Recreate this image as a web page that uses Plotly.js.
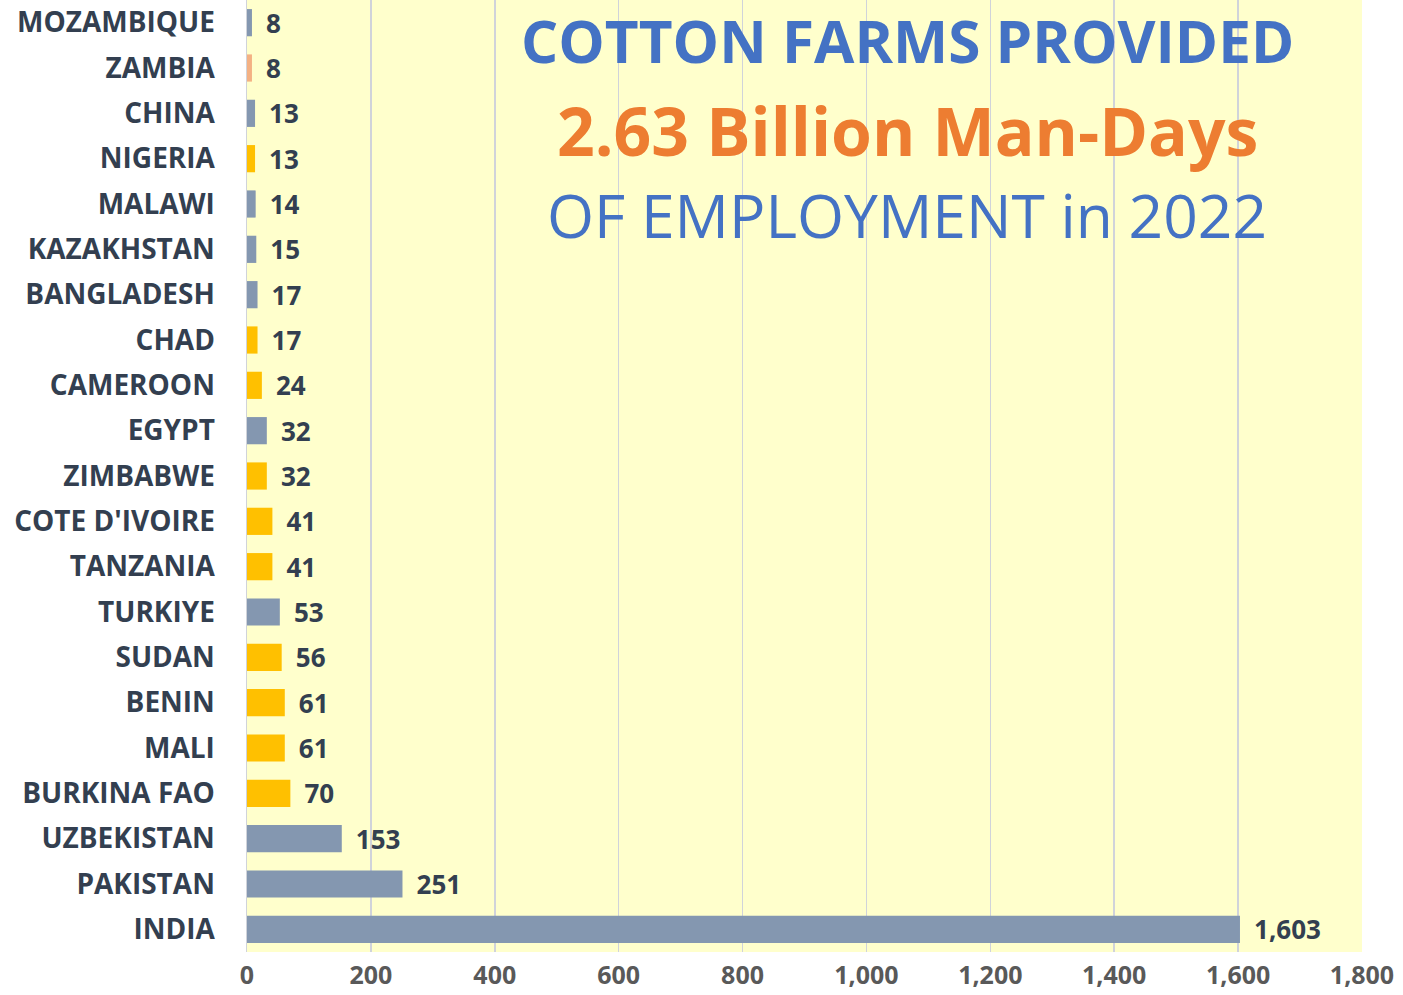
<!DOCTYPE html>
<html><head><meta charset="utf-8">
<script src="https://cdn.plot.ly/plotly-3.0.1.min.js"></script>
<style>body{margin:0;padding:0;background:#fff}#chart{width:1403px;height:995px}</style>
</head><body><div id="chart"></div>
<script>
const countries = ["MOZAMBIQUE","ZAMBIA","CHINA","NIGERIA","MALAWI","KAZAKHSTAN","BANGLADESH","CHAD","CAMEROON","EGYPT","ZIMBABWE","COTE D'IVOIRE","TANZANIA","TURKIYE","SUDAN","BENIN","MALI","BURKINA FAO","UZBEKISTAN","PAKISTAN","INDIA"];
const manDays = [8,8,13,13,14,15,17,17,24,32,32,41,41,53,56,61,61,70,153,251,1603];
const groups = ["grey","salmon","grey","gold","grey","grey","grey","gold","gold","grey","gold","gold","gold","grey","gold","gold","gold","gold","grey","grey","grey"];
const palette = {grey:"#8497B0", gold:"#FFC000", salmon:"#F4B183"};
const xTicks = [0,200,400,600,800,1000,1200,1400,1600,1800];

const cats = countries.slice().reverse();
const vals = manDays.slice().reverse();
const cols = groups.slice().reverse().map(g => palette[g]);

const trace = {
  type: "bar", orientation: "h",
  x: vals, y: cats,
  marker: {color: cols},
  text: vals, texttemplate: "\u00a0\u2009%{x:,}", textposition: "outside",
  constraintext: "none",
  textfont: {family: "Open Sans", size: 26, color: "#333F50", weight: 700},
  cliponaxis: false, hoverinfo: "skip"
};

const font = "Open Sans";
const layout = {
  width: 1403, height: 995,
  margin: {l: 247, r: 41, t: 0, b: 43},
  paper_bgcolor: "#FFFFFF", plot_bgcolor: "#FFFFCC",
  bargap: 0.4, showlegend: false,
  xaxis: {range: [0, 1800], tickvals: xTicks, tickformat: ",", showgrid: true, gridcolor: "#D0D3DA", gridwidth: 1.5,
          zeroline: false, showline: false, ticks: "", ticklabelstandoff: 6,
          tickfont: {family: font, size: 25, color: "#595959", weight: 700}, fixedrange: true},
  yaxis: {type: "category", showgrid: false, showline: true, linecolor: "#D0D3DA", linewidth: 1.5, ticks: "",
          ticklabelstandoff: 25,
          tickfont: {family: font, size: 28, color: "#333F50", weight: 700}, fixedrange: true},
  annotations: [
    {xref: "paper", yref: "paper", x: 0.592, y: 1 - 40/952, text: "COTTON FARMS PROVIDED", showarrow: false,
     font: {family: font, size: 58.5, color: "#4472C4", weight: 700}, xanchor: "center", yanchor: "middle"},
    {xref: "paper", yref: "paper", x: 0.592, y: 1 - 130/952, text: "2.63 Billion Man-Days", showarrow: false,
     font: {family: font, size: 66, color: "#ED7D31", weight: 700}, xanchor: "center", yanchor: "middle"},
    {xref: "paper", yref: "paper", x: 0.592, y: 1 - 215/952, text: "OF EMPLOYMENT in 2022", showarrow: false,
     font: {family: font, size: 60.5, color: "#4472C4", weight: 400}, xanchor: "center", yanchor: "middle"}
  ]
};
Plotly.newPlot("chart", [trace], layout, {displayModeBar: false, staticPlot: true});
</script></body></html>
